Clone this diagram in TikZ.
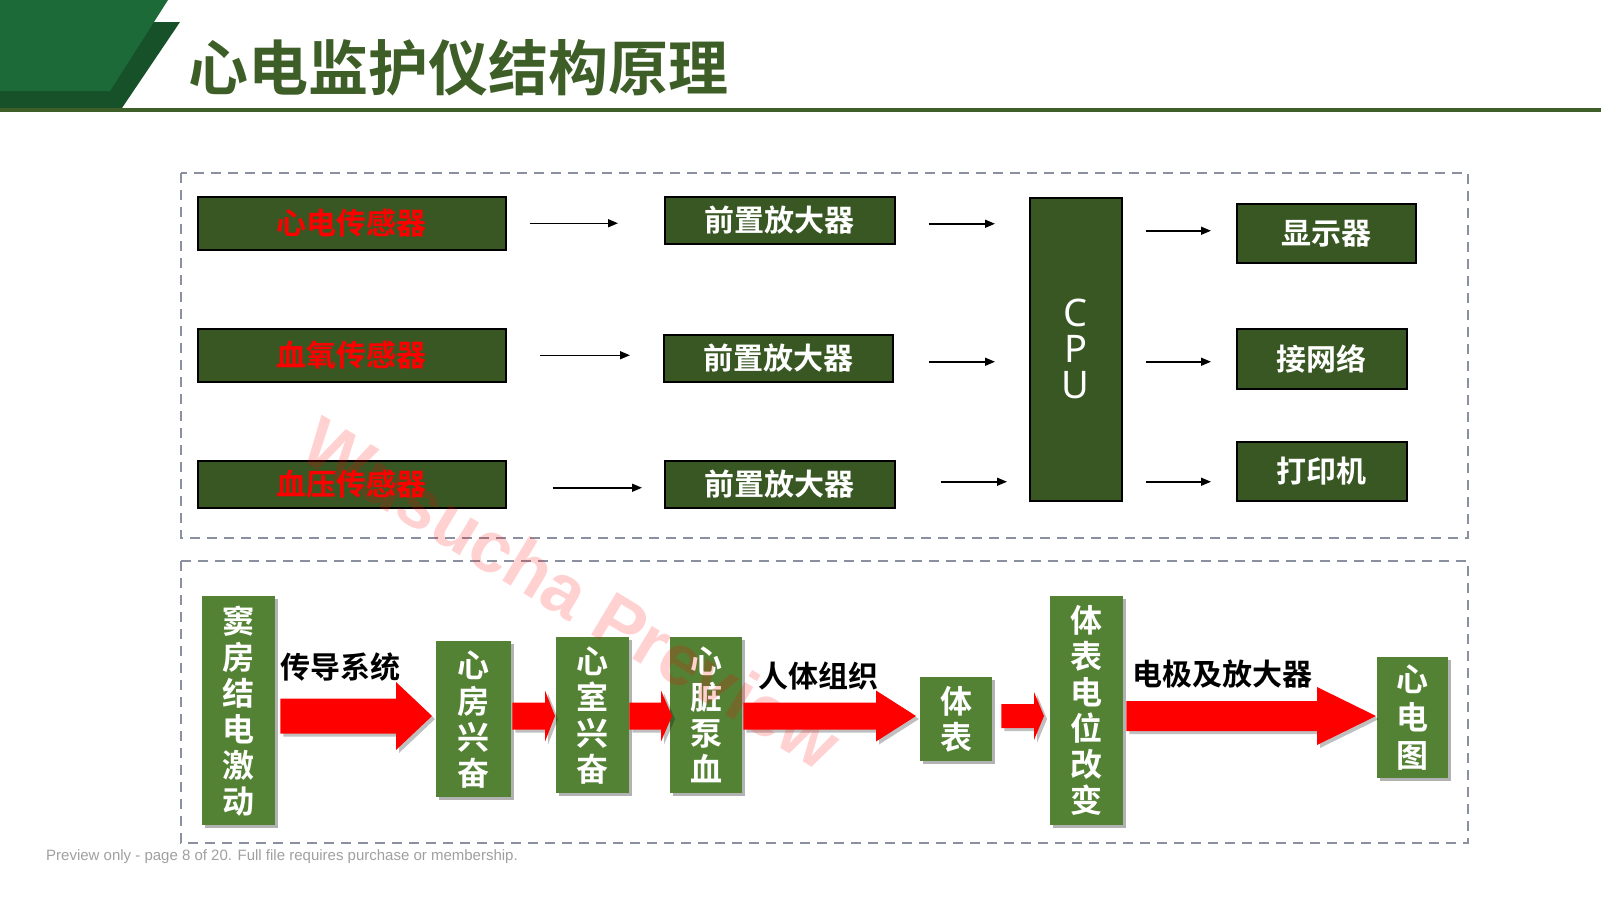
\documentclass[tikz,border=0pt]{standalone}
\usepackage{fontspec}
\usetikzlibrary{arrows.meta,calc,shadows}
\newfontfamily\cjk{Noto Sans CJK SC}[BoldFont={Noto Sans CJK SC Bold}]
\newfontfamily\latinsans{Liberation Sans}
\newfontfamily\cpufont{Noto Sans}
\definecolor{boxdark}{HTML}{385723}
\definecolor{boxgreen}{HTML}{548235}
\definecolor{arrowred}{HTML}{FF0000}
\definecolor{dashgray}{HTML}{8A90A0}
\definecolor{titlegreen}{HTML}{3E5E28}
\definecolor{cornerlight}{HTML}{1B6A37}
\definecolor{cornerdark}{HTML}{175129}
\definecolor{rulegreen}{HTML}{3E5F2A}
\definecolor{footgray}{HTML}{A0A0A0}
% #1 start node anchor, #2 end node anchor, #3 start gap, #4 end gap,
% #5 shaft half thickness, #6 head half width, #7 head length
\newcommand\blockarrow[7]{%
  \fill[arrowred, arrowshadow] let \p1=(#1|-m), \p2=(#2|-m) in
    (\x1+#3,\y1+#5) -- (\x2-#4-#7,\y1+#5) -- (\x2-#4-#7,\y1+#6) -- (\x2-#4,\y1)
    -- (\x2-#4-#7,\y1-#6) -- (\x2-#4-#7,\y1-#5) -- (\x1+#3,\y1-#5) -- cycle;}
\begin{document}
\begin{tikzpicture}[x=1pt,y=-1pt,
  topbox/.style={draw=black, line width=1.5pt, fill=boxdark, inner sep=0pt,
    anchor=north west, text=white, font=\cjk\bfseries\fontsize{30}{30}\selectfont},
  sensorbox/.style={topbox, text=arrowred},
  greenbox/.style={fill=boxgreen, inner sep=0pt, anchor=north west, text=white,
    align=center, font=\cjk\bfseries\fontsize{32}{36}\selectfont,
    drop shadow={opacity=0.3, shadow xshift=3pt, shadow yshift=-3pt, fill=black}},
  arrowshadow/.style={drop shadow={opacity=0.25, shadow xshift=3pt, shadow yshift=-3pt, fill=black}},
  flowlabel/.style={inner sep=0pt, text=black, font=\cjk\bfseries\fontsize{30}{30}\selectfont},
  thinarrow/.style={draw=black, line width=1.5pt, -{Triangle[length=10pt,width=8pt]}},
  dashframe/.style={draw=dashgray, line width=2.5pt, dash pattern=on 10pt off 7pt}
]
\useasboundingbox (0,0) rectangle (1601,900);
\fill[white] (0,0) rectangle (1601,900);

% title corner and rule
\fill[cornerdark] (0,22) -- (180,22) -- (122,108) -- (0,108) -- cycle;
\fill[cornerlight] (0,0) -- (168,0) -- (110,91) -- (0,91) -- cycle;
\fill[rulegreen] (0,107.5) rectangle (1601,111.5);
\node[anchor=west, inner sep=0pt, text=titlegreen, font=\cjk\bfseries\fontsize{60}{60}\selectfont] (title) at (188,68) {心电监护仪结构原理};

% frames
\draw[dashframe] (181,173) rectangle (1468,538);
\draw[dashframe] (181,561) rectangle (1468,843);

% top diagram
\node[sensorbox, minimum width=308pt, minimum height=53pt] (s1) at (197,196) {心电传感器};
\node[sensorbox, minimum width=308pt, minimum height=53pt] (s2) at (197,328) {血氧传感器};
\node[sensorbox, minimum width=308pt, minimum height=47pt] (s3) at (197,460) {血压传感器};
\node[topbox, minimum width=230pt, minimum height=47pt] (a1) at (664,196) {前置放大器};
\node[topbox, minimum width=229pt, minimum height=47pt] (a2) at (663,334) {前置放大器};
\node[topbox, minimum width=230pt, minimum height=47pt] (a3) at (664,460) {前置放大器};
\node[topbox, minimum width=92pt, minimum height=303pt, align=center,
      font=\cpufont\fontsize{38}{36}\selectfont] (cpu) at (1029,197) {C\\P\\U};
\node[topbox, minimum width=179pt, minimum height=59pt] (d) at (1236,203) {显示器};
\node[topbox, minimum width=170pt, minimum height=60pt] (n) at (1236,328) {接网络};
\node[topbox, minimum width=170pt, minimum height=59pt] (p) at (1236,441) {打印机};

\draw[thinarrow, shorten <=23pt, shorten >=46pt] (s1.east) -- (a1.west |- s1.east);
\draw[thinarrow, shorten <=33pt, shorten >=33pt] (s2.east) -- (a2.west |- s2.east);
\draw[thinarrow, shorten <=46pt, shorten >=22pt] ([yshift=-3.5pt]s3.east) -- ([yshift=-3.5pt]s3.east -| a3.west);
\draw[thinarrow, shorten <=33pt, shorten >=34pt] ([yshift=-3.5pt]a1.east) -- ([yshift=-3.5pt]a1.east -| cpu.west);
\draw[thinarrow, shorten <=35pt, shorten >=34pt] ([yshift=-3.5pt]a2.east) -- ([yshift=-3.5pt]a2.east -| cpu.west);
\draw[thinarrow, shorten <=45pt, shorten >=22pt] ([yshift=2.5pt]a3.east) -- ([yshift=2.5pt]a3.east -| cpu.west);
\draw[thinarrow, shorten <=23pt, shorten >=25pt] ([yshift=2.5pt]d.west -| cpu.east) -- ([yshift=2.5pt]d.west);
\draw[thinarrow, shorten <=23pt, shorten >=25pt] ([yshift=-3pt]n.west -| cpu.east) -- ([yshift=-3pt]n.west);
\draw[thinarrow, shorten <=23pt, shorten >=25pt] ([yshift=-10.5pt]p.west -| cpu.east) -- ([yshift=-10.5pt]p.west);

% bottom diagram
\coordinate (m) at (0,716);
\node[greenbox, minimum width=73pt, minimum height=229pt] (g1) at (202,596) {窦\\房\\结\\电\\激\\动};
\node[greenbox, minimum width=75pt, minimum height=156pt] (g2) at (436,641) {心\\房\\兴\\奋};
\node[greenbox, minimum width=73pt, minimum height=156pt] (g3) at (556,637) {心\\室\\兴\\奋};
\node[greenbox, minimum width=72pt, minimum height=156pt] (g4) at (670,637) {心\\脏\\泵\\血};
\node[greenbox, minimum width=72pt, minimum height=84pt] (g5) at (920,677) {体\\表};
\node[greenbox, minimum width=73pt, minimum height=229pt] (g6) at (1050,596) {体\\表\\电\\位\\改\\变};
\node[greenbox, minimum width=71pt, minimum height=121pt, font=\cjk\bfseries\fontsize{32}{38}\selectfont] (g7) at (1377,657) {心\\电\\图};

\blockarrow{g1.east}{g2.west}{5pt}{4pt}{17.5pt}{34pt}{36pt}
\blockarrow{g2.east}{g3.west}{1pt}{1pt}{13.5pt}{25.5pt}{10pt}
\blockarrow{g3.east}{g4.west}{0pt}{-2pt}{13.5pt}{25.5pt}{11pt}
\blockarrow{g4.east}{g5.west}{1pt}{4pt}{13.5pt}{25.5pt}{40pt}
\blockarrow{g5.east}{g6.west}{9pt}{6pt}{12pt}{24pt}{10pt}
\blockarrow{g6.east}{g7.west}{3pt}{1pt}{15pt}{29pt}{59pt}

\node[flowlabel] (l1) at (340,667) {传导系统};
\node[flowlabel] (l2) at (818,676) {人体组织};
\node[flowlabel] (l3) at (1222,674) {电极及放大器};

% footer and watermark
\node[anchor=west, inner sep=0pt, text=footgray, font=\latinsans\fontsize{15}{15}\selectfont] (foot) at (46,857) {Preview only - page 8 of 20. Full file requires purchase or membership.};
\node[rotate=-31, text=arrowred, opacity=0.18, inner sep=0pt,
      font=\latinsans\bfseries\fontsize{72}{72}\selectfont] (wm) at (572,593) {Wusucha Preview};
\end{tikzpicture}
\end{document}
